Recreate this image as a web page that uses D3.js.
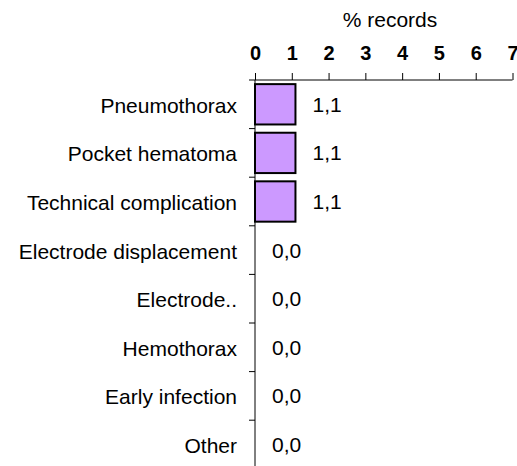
<html>
  <head>
    <script src="https://cdn.jsdelivr.net/npm/d3@7"></script>
    <style>
      body { margin: 0; background: #fff; }
      text { font-family: "Liberation Sans", Arial, sans-serif; }
    </style>
  </head>
  <body>
    <div id="main"></div>
  <script>
    // data
    var categories = ['Pneumothorax', 'Pocket hematoma', 'Technical complication',
      'Electrode displacement', 'Electrode..', 'Hemothorax', 'Early infection', 'Other'];
    var values = [1.1, 1.1, 1.1, 0, 0, 0, 0, 0];
    var xTicks = [0, 1, 2, 3, 4, 5, 6, 7];

    var width = 517, height = 466;
    // note: "top" is taken by window.top, so use plotTop
    var plotLeft = 255, plotRight = 512.5, plotTop = 80;
    var band = 48.6;

    var svg = d3.select('#main').append('svg')
      .attr('width', width)
      .attr('height', height);

    var x = d3.scaleLinear().domain([0, 7]).range([plotLeft, plotRight]);
    var y = d3.scaleBand().domain(categories)
      .range([plotTop, plotTop + band * categories.length])
      .paddingInner(0.17).paddingOuter(0.085);

    // bars
    svg.selectAll('rect.bar')
      .data(values)
      .enter().append('rect')
      .attr('class', 'bar')
      .attr('x', x(0))
      .attr('y', function(d, i) { return y(categories[i]); })
      .attr('width', function(d) { return x(d) - x(0); })
      .attr('height', y.bandwidth())
      .attr('fill', '#cc99ff')
      .attr('stroke', '#000')
      .attr('stroke-width', function(d) { return d > 0 ? 2 : 0; });

    // value labels
    svg.selectAll('text.val')
      .data(values)
      .enter().append('text')
      .attr('class', 'val')
      .attr('x', function(d) { return x(d) + 17; })
      .attr('y', function(d, i) { return y(categories[i]) + y.bandwidth() / 2; })
      .attr('dy', '0.36em')
      .attr('font-size', 21)
      .text(function(d) { return d.toFixed(1).replace('.', ','); });

    // x axis on top, bold tick labels
    var xAxis = svg.append('g')
      .attr('transform', 'translate(0,' + plotTop + ')')
      .call(d3.axisTop(x).tickValues(xTicks).tickFormat(d3.format('d'))
        .tickSize(7).tickSizeOuter(0).tickPadding(13));
    xAxis.attr('font-size', 20).attr('font-family', '"Liberation Sans", Arial, sans-serif')
      .attr('font-weight', 700);
    xAxis.select('.domain').attr('d', 'M' + (plotLeft - 6) + ',0H' + plotRight).attr('stroke', '#000');
    xAxis.selectAll('line').attr('stroke', '#000');
    xAxis.selectAll('text').attr('fill', '#000');

    svg.append('text')
      .attr('x', 390)
      .attr('y', 27)
      .attr('text-anchor', 'middle')
      .attr('font-size', 21)
      .text('% records');

    // y axis: line with ticks at band boundaries
    var yAxis = svg.append('g');
    yAxis.append('line')
      .attr('x1', plotLeft).attr('x2', plotLeft)
      .attr('y1', plotTop).attr('y2', plotTop + band * categories.length)
      .attr('stroke', '#000');
    yAxis.selectAll('line.tick')
      .data(categories.slice(1))
      .enter().append('line')
      .attr('class', 'tick')
      .attr('x1', plotLeft - 6).attr('x2', plotLeft)
      .attr('y1', function(d) { return plotTop + band * categories.indexOf(d); })
      .attr('y2', function(d) { return plotTop + band * categories.indexOf(d); })
      .attr('stroke', '#000');

    yAxis.selectAll('text.cat')
      .data(categories)
      .enter().append('text')
      .attr('class', 'cat')
      .attr('x', 237)
      .attr('y', function(d) { return y(d) + y.bandwidth() / 2; })
      .attr('dy', '0.4em')
      .attr('text-anchor', 'end')
      .attr('font-size', 21)
      .text(function(d) { return d; });
  </script>
  </body>
</html>
